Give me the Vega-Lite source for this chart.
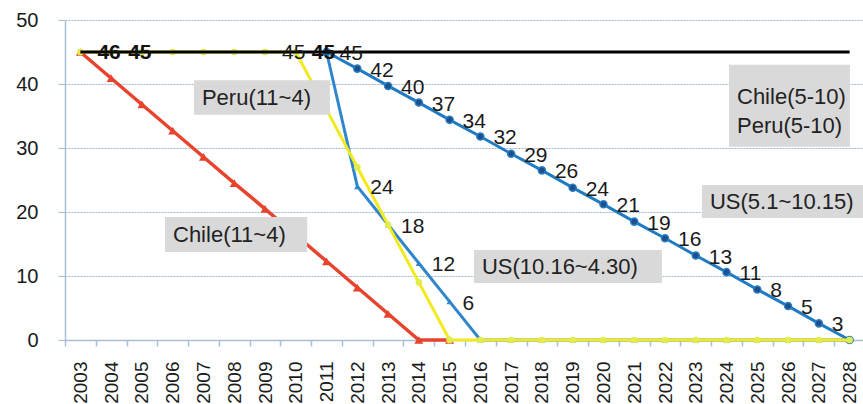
{
  "$schema": "https://vega.github.io/schema/vega-lite/v6.json",
  "width": 800,
  "height": 320,
  "autosize": {"type": "none"},
  "padding": {"left": 65, "top": 20, "right": 0, "bottom": 64},
  "background": "white",
  "config": {"view": {"stroke": null}, "font": "Liberation Sans"},
  "datasets": {
    "lines": [
      {"series": "Chile(11~4)", "year": 2003, "value": 45},
      {"series": "Chile(11~4)", "year": 2004, "value": 40.9},
      {"series": "Chile(11~4)", "year": 2005, "value": 36.8},
      {"series": "Chile(11~4)", "year": 2006, "value": 32.7},
      {"series": "Chile(11~4)", "year": 2007, "value": 28.6},
      {"series": "Chile(11~4)", "year": 2008, "value": 24.5},
      {"series": "Chile(11~4)", "year": 2009, "value": 20.5},
      {"series": "Chile(11~4)", "year": 2010, "value": 16.4},
      {"series": "Chile(11~4)", "year": 2011, "value": 12.3},
      {"series": "Chile(11~4)", "year": 2012, "value": 8.2},
      {"series": "Chile(11~4)", "year": 2013, "value": 4.1},
      {"series": "Chile(11~4)", "year": 2014, "value": 0},
      {"series": "Chile(11~4)", "year": 2015, "value": 0},

      {"series": "US(10.16~4.30)", "year": 2011, "value": 45, "label": "45"},
      {"series": "US(10.16~4.30)", "year": 2012, "value": 24, "label": "24"},
      {"series": "US(10.16~4.30)", "year": 2013, "value": 18, "label": "18"},
      {"series": "US(10.16~4.30)", "year": 2014, "value": 12, "label": "12"},
      {"series": "US(10.16~4.30)", "year": 2015, "value": 6, "label": "6"},
      {"series": "US(10.16~4.30)", "year": 2016, "value": 0},
      {"series": "US(10.16~4.30)", "year": 2017, "value": 0},
      {"series": "US(10.16~4.30)", "year": 2018, "value": 0},
      {"series": "US(10.16~4.30)", "year": 2019, "value": 0},
      {"series": "US(10.16~4.30)", "year": 2020, "value": 0},
      {"series": "US(10.16~4.30)", "year": 2021, "value": 0},
      {"series": "US(10.16~4.30)", "year": 2022, "value": 0},
      {"series": "US(10.16~4.30)", "year": 2023, "value": 0},
      {"series": "US(10.16~4.30)", "year": 2024, "value": 0},
      {"series": "US(10.16~4.30)", "year": 2025, "value": 0},
      {"series": "US(10.16~4.30)", "year": 2026, "value": 0},
      {"series": "US(10.16~4.30)", "year": 2027, "value": 0},
      {"series": "US(10.16~4.30)", "year": 2028, "value": 0},

      {"series": "US(5.1~10.15)", "year": 2011, "value": 45, "label": "45"},
      {"series": "US(5.1~10.15)", "year": 2012, "value": 42.4, "label": "42"},
      {"series": "US(5.1~10.15)", "year": 2013, "value": 39.7, "label": "40"},
      {"series": "US(5.1~10.15)", "year": 2014, "value": 37.1, "label": "37"},
      {"series": "US(5.1~10.15)", "year": 2015, "value": 34.4, "label": "34"},
      {"series": "US(5.1~10.15)", "year": 2016, "value": 31.8, "label": "32"},
      {"series": "US(5.1~10.15)", "year": 2017, "value": 29.1, "label": "29"},
      {"series": "US(5.1~10.15)", "year": 2018, "value": 26.5, "label": "26"},
      {"series": "US(5.1~10.15)", "year": 2019, "value": 23.8, "label": "24"},
      {"series": "US(5.1~10.15)", "year": 2020, "value": 21.2, "label": "21"},
      {"series": "US(5.1~10.15)", "year": 2021, "value": 18.5, "label": "19"},
      {"series": "US(5.1~10.15)", "year": 2022, "value": 15.9, "label": "16"},
      {"series": "US(5.1~10.15)", "year": 2023, "value": 13.2, "label": "13"},
      {"series": "US(5.1~10.15)", "year": 2024, "value": 10.6, "label": "11"},
      {"series": "US(5.1~10.15)", "year": 2025, "value": 7.9, "label": "8"},
      {"series": "US(5.1~10.15)", "year": 2026, "value": 5.3, "label": "5"},
      {"series": "US(5.1~10.15)", "year": 2027, "value": 2.6, "label": "3"},
      {"series": "US(5.1~10.15)", "year": 2028, "value": 0, "label": "0"},

      {"series": "Peru(11~4)", "year": 2003, "value": 45},
      {"series": "Peru(11~4)", "year": 2004, "value": 45},
      {"series": "Peru(11~4)", "year": 2005, "value": 45},
      {"series": "Peru(11~4)", "year": 2006, "value": 45},
      {"series": "Peru(11~4)", "year": 2007, "value": 45},
      {"series": "Peru(11~4)", "year": 2008, "value": 45},
      {"series": "Peru(11~4)", "year": 2009, "value": 45},
      {"series": "Peru(11~4)", "year": 2010, "value": 45, "label": "45"},
      {"series": "Peru(11~4)", "year": 2011, "value": 36},
      {"series": "Peru(11~4)", "year": 2012, "value": 27},
      {"series": "Peru(11~4)", "year": 2013, "value": 18},
      {"series": "Peru(11~4)", "year": 2014, "value": 9},
      {"series": "Peru(11~4)", "year": 2015, "value": 0},
      {"series": "Peru(11~4)", "year": 2016, "value": 0},
      {"series": "Peru(11~4)", "year": 2017, "value": 0},
      {"series": "Peru(11~4)", "year": 2018, "value": 0},
      {"series": "Peru(11~4)", "year": 2019, "value": 0},
      {"series": "Peru(11~4)", "year": 2020, "value": 0},
      {"series": "Peru(11~4)", "year": 2021, "value": 0},
      {"series": "Peru(11~4)", "year": 2022, "value": 0},
      {"series": "Peru(11~4)", "year": 2023, "value": 0},
      {"series": "Peru(11~4)", "year": 2024, "value": 0},
      {"series": "Peru(11~4)", "year": 2025, "value": 0},
      {"series": "Peru(11~4)", "year": 2026, "value": 0},
      {"series": "Peru(11~4)", "year": 2027, "value": 0},
      {"series": "Peru(11~4)", "year": 2028, "value": 0},

      {"series": "Chile(5-10) Peru(5-10)", "year": 2003, "value": 45, "label": "46"},
      {"series": "Chile(5-10) Peru(5-10)", "year": 2004, "value": 45, "label": "45"},
      {"series": "Chile(5-10) Peru(5-10)", "year": 2028, "value": 45}
    ],
    "notes": [
      {"text": "Peru(11~4)", "x1": 2006.69, "x2": 2011.11, "y1": 40.6, "y2": 35.2, "ty": 37.8},
      {"text": "Chile(11~4)", "x1": 2005.75, "x2": 2010.37, "y1": 19.2, "y2": 13.75, "ty": 16.4},
      {"text": "US(10.16~4.30)", "x1": 2015.79, "x2": 2021.9, "y1": 14.06, "y2": 8.9, "ty": 11.4},
      {"text": "US(5.1~10.15)", "x1": 2023.2, "x2": 2028.5, "y1": 24.2, "y2": 19.06, "ty": 21.6},
      {"text": "Chile(5-10)\nPeru(5-10)", "x1": 2024.08, "x2": 2028.01, "y1": 43.0, "y2": 30.2, "ty": 37.9}
    ]
  },
  "encoding": {
    "x": {
      "field": "year",
      "type": "quantitative",
      "scale": {"domain": [2002.5, 2028.5], "nice": false, "zero": false},
      "axis": {
        "values": [2003, 2004, 2005, 2006, 2007, 2008, 2009, 2010, 2011, 2012, 2013, 2014, 2015, 2016, 2017, 2018, 2019, 2020, 2021, 2022, 2023, 2024, 2025, 2026, 2027, 2028],
        "format": "d",
        "labelAngle": -90,
        "tickOffset": -15.385,
        "labelOffset": 15.385,
        "grid": false,
        "domainColor": "#a9bfd6",
        "domainWidth": 1.5,
        "tickColor": "#a9bfd6",
        "tickWidth": 1.5,
        "tickSize": 6,
        "labelPadding": 15,
        "labelFontSize": 19,
        "labelColor": "#1a1a1a",
        "labelFlush": false,
        "labelOverlap": false,
        "title": null
      }
    },
    "y": {
      "field": "value",
      "type": "quantitative",
      "scale": {"domain": [0, 50], "nice": false},
      "axis": {
        "values": [0, 10, 20, 30, 40, 50],
        "grid": true,
        "gridDash": [2, 1],
        "gridColor": "#9fb8d2",
        "gridWidth": 1.2,
        "domainColor": "#a9bfd6",
        "domainWidth": 1.5,
        "tickColor": "#a9bfd6",
        "tickSize": 7,
        "labelPadding": 20,
        "labelFontSize": 20,
        "labelColor": "#1a1a1a",
        "title": null
      }
    }
  },
  "layer": [
    {
      "data": {"name": "lines"},
      "transform": [{"filter": "datum.series === 'Chile(11~4)'"}],
      "layer": [
        {"mark": {"type": "line", "color": "#e8432d", "strokeWidth": 3.5}, "encoding": {}},
        {"mark": {"type": "point", "shape": "triangle-up", "filled": true, "color": "#e8432d", "size": 80, "opacity": 1}, "encoding": {}}
      ]
    },
    {
      "data": {"name": "lines"},
      "transform": [{"filter": "datum.series === 'US(10.16~4.30)'"}],
      "layer": [
        {"mark": {"type": "line", "color": "#2f86cc", "strokeWidth": 3}, "encoding": {}},
        {"mark": {"type": "point", "shape": "triangle-up", "filled": true, "color": "#2f86cc", "size": 40, "opacity": 1}, "encoding": {}}
      ]
    },
    {
      "data": {"name": "lines"},
      "transform": [{"filter": "datum.series === 'US(5.1~10.15)'"}],
      "layer": [
        {"mark": {"type": "line", "color": "#1f7cc4", "strokeWidth": 3}, "encoding": {}},
        {"mark": {"type": "point", "shape": "circle", "filled": true, "fill": "#1f4e8c", "stroke": "#2a7fc4", "strokeWidth": 1.5, "size": 50, "opacity": 1}, "encoding": {}}
      ]
    },
    {
      "data": {"name": "lines"},
      "transform": [{"filter": "datum.series === 'Peru(11~4)'"}],
      "layer": [
        {"mark": {"type": "line", "color": "#f2ea1c", "strokeWidth": 3}, "encoding": {}},
        {"mark": {"type": "point", "shape": "circle", "filled": true, "color": "#e2ec4c", "size": 45, "opacity": 1}, "encoding": {}}
      ]
    },
    {
      "data": {"name": "lines"},
      "transform": [{"filter": "datum.series === 'Chile(5-10) Peru(5-10)'"}],
      "mark": {"type": "line", "color": "#000000", "strokeWidth": 3},
      "encoding": {}
    },
    {
      "data": {"name": "notes"},
      "mark": {"type": "rect", "color": "#d9d9d9", "opacity": 1},
      "encoding": {
        "x": {"field": "x1", "type": "quantitative"},
        "x2": {"field": "x2"},
        "y": {"field": "y1", "type": "quantitative"},
        "y2": {"field": "y2"}
      }
    },
    {
      "data": {"name": "notes"},
      "mark": {"type": "text", "align": "left", "baseline": "middle", "dx": 8, "fontSize": 22, "color": "#222222", "lineBreak": "\n", "lineHeight": 29},
      "encoding": {
        "x": {"field": "x1", "type": "quantitative"},
        "y": {"field": "ty", "type": "quantitative"},
        "text": {"field": "text"}
      }
    },
    {
      "data": {"name": "lines"},
      "transform": [{"filter": "datum.series === 'US(5.1~10.15)' && datum.label != null"}],
      "mark": {"type": "text", "align": "left", "baseline": "middle", "dx": 13, "dy": 2, "fontSize": 21, "color": "#1a1a1a"},
      "encoding": {"text": {"field": "label"}}
    },
    {
      "data": {"name": "lines"},
      "transform": [{"filter": "datum.series === 'US(10.16~4.30)' && datum.label != null && datum.year > 2011"}],
      "mark": {"type": "text", "align": "left", "baseline": "middle", "dx": 13, "dy": 2, "fontSize": 21, "color": "#1a1a1a"},
      "encoding": {"text": {"field": "label"}}
    },
    {
      "data": {"name": "lines"},
      "transform": [{"filter": "datum.series === 'US(10.16~4.30)' && datum.year === 2011"}],
      "mark": {"type": "text", "align": "center", "baseline": "middle", "dx": -3, "dy": 1, "fontSize": 21, "fontWeight": "bold", "color": "#111111"},
      "encoding": {"text": {"field": "label"}}
    },
    {
      "data": {"name": "lines"},
      "transform": [{"filter": "datum.series === 'Peru(11~4)' && datum.label != null"}],
      "mark": {"type": "text", "align": "center", "baseline": "middle", "dx": -2, "dy": 1, "fontSize": 21, "color": "#1a1a1a"},
      "encoding": {"text": {"field": "label"}}
    },
    {
      "data": {"name": "lines"},
      "transform": [{"filter": "datum.series === 'Chile(5-10) Peru(5-10)' && datum.label != null"}],
      "mark": {"type": "text", "align": "left", "baseline": "middle", "dx": 17, "dy": 1, "fontSize": 21, "fontWeight": "bold", "color": "#111111"},
      "encoding": {"text": {"field": "label"}}
    }
  ]
}
